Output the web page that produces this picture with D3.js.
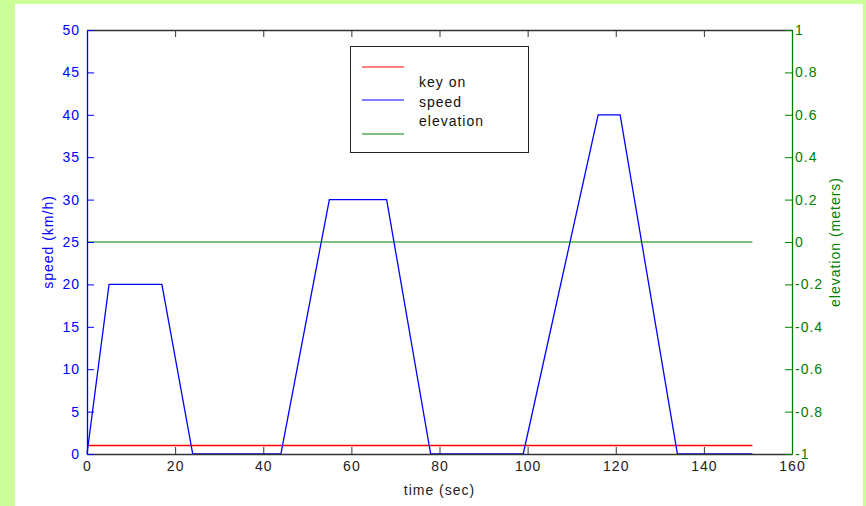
<!DOCTYPE html>
<html>
<head>
<meta charset="utf-8">
<script src="https://cdnjs.cloudflare.com/ajax/libs/d3/7.8.5/d3.min.js"></script>
<style>
    body { margin: 0; background: #ccff99; }
    svg text { font-family: "Liberation Sans", Arial, sans-serif; font-size: 14px; letter-spacing: 1px; }
</style>
</head>
<body>
<div id="chart"></div>
<script>
// speed profile breakpoints (sec, km/h)
var speedTime = [0, 5, 17, 24, 44, 55, 68, 78, 99, 116, 121, 134, 151];
var speedValue = [0, 20, 20, 0, 0, 30, 30, 0, 0, 40, 40, 0, 0];
// key on and elevation are flat over the whole run
var keyOnTime = [0, 151];
var keyOnValue = [1, 1];
var elevationTime = [0, 151];
var elevationValue = [0, 0];

var xTicks = [0, 20, 40, 60, 80, 100, 120, 140, 160];
var speedTicks = [0, 5, 10, 15, 20, 25, 30, 35, 40, 45, 50];
var elevTicks = [-1, -0.8, -0.6, -0.4, -0.2, 0, 0.2, 0.4, 0.6, 0.8, 1];

var legendLabels = ["key on", "speed", "elevation"];
var legendColors = ["#ff0000", "#0000ff", "#008000"];

var width = 866, height = 506;
var plotLeft = 87, plotRight = 792, plotTop = 30, plotBottom = 454;
var tickLen = 7;

var svg = d3.select("#chart").append("svg")
    .attr("width", width)
    .attr("height", height)
    .style("display", "block");

svg.append("rect")
    .attr("x", 15).attr("y", 4)
    .attr("width", 848).attr("height", height - 4)
    .attr("fill", "#fff");

var x = d3.scaleLinear().domain([0, 160]).range([plotLeft, plotRight]);
var ySpeed = d3.scaleLinear().domain([0, 50]).range([plotBottom, plotTop]);
var yElev = d3.scaleLinear().domain([-1, 1]).range([plotBottom, plotTop]);

function zip(t, v) {
    return t.map(function (d, i) { return [d, v[i]]; });
}

var line = function (ys) {
    return d3.line().x(function (d) { return x(d[0]); }).y(function (d) { return ys(d[1]); });
};

// data lines first, axes go on top like matlab
svg.append("path")
    .datum(zip(keyOnTime, keyOnValue))
    .attr("d", line(ySpeed))
    .attr("fill", "none").attr("stroke", "#ff0000").attr("stroke-width", 1.4);

svg.append("path")
    .datum(zip(speedTime, speedValue))
    .attr("d", line(ySpeed))
    .attr("fill", "none").attr("stroke", "#0000ff").attr("stroke-width", 1.3);

svg.append("path")
    .datum(zip(elevationTime, elevationValue))
    .attr("d", line(yElev))
    .attr("fill", "none").attr("stroke", "#008000").attr("stroke-width", 1.2);

// bottom + top axes (black, inward ticks)
var xBottom = svg.append("g")
    .attr("transform", "translate(0," + plotBottom + ")")
    .call(d3.axisBottom(x).tickValues(xTicks).tickSize(-tickLen).tickPadding(7).tickSizeOuter(0));
var xTop = svg.append("g")
    .attr("transform", "translate(0," + plotTop + ")")
    .call(d3.axisTop(x).tickValues(xTicks).tickSize(-tickLen).tickFormat("").tickSizeOuter(0));
[xBottom, xTop].forEach(function (g) {
    g.select(".domain").attr("stroke", "#333").attr("stroke-width", 1.3);
    g.selectAll(".tick line").attr("stroke", "#333");
    g.selectAll(".tick text").attr("fill", "#222").attr("font-size", 14).attr("font-family", null);
});

var yLeft = svg.append("g")
    .attr("transform", "translate(" + plotLeft + ",0)")
    .call(d3.axisLeft(ySpeed).tickValues(speedTicks).tickSize(-tickLen).tickPadding(7).tickSizeOuter(0));
yLeft.select(".domain").attr("stroke", "#0000ff").attr("stroke-width", 1.3);
yLeft.selectAll(".tick line").attr("stroke", "#0000ff");
yLeft.selectAll(".tick text").attr("fill", "#0000ff").attr("font-size", 14).attr("font-family", null);

var yRight = svg.append("g")
    .attr("transform", "translate(" + plotRight + ",0)")
    .call(d3.axisRight(yElev).tickValues(elevTicks).tickSize(-tickLen).tickPadding(3)
        .tickSizeOuter(0).tickFormat(function (d) { return String(+d.toFixed(1)); }));
yRight.select(".domain").attr("stroke", "#008000").attr("stroke-width", 1.3);
yRight.selectAll(".tick line").attr("stroke", "#008000");
yRight.selectAll(".tick text").attr("fill", "#008000").attr("font-size", 14).attr("font-family", null);

// axis labels
svg.append("text")
    .attr("x", (plotLeft + plotRight) / 2).attr("y", 495)
    .attr("text-anchor", "middle").attr("fill", "#222")
    .text("time (sec)");
svg.append("text")
    .attr("transform", "translate(53," + ((plotTop + plotBottom) / 2) + ") rotate(-90)")
    .attr("text-anchor", "middle").attr("fill", "#0000ff")
    .text("speed (km/h)");
svg.append("text")
    .attr("transform", "translate(840," + ((plotTop + plotBottom) / 2) + ") rotate(-90)")
    .attr("text-anchor", "middle").attr("fill", "#008000")
    .text("elevation (meters)");

// legend, old matlab style with lines and labels not lined up
var legend = svg.append("g");
legend.append("rect")
    .attr("x", 350.5).attr("y", 46.5)
    .attr("width", 178).attr("height", 106)
    .attr("fill", "#fff").attr("stroke", "#222");
var lineY = [67, 100, 134];
var textY = [87, 107, 126];
legend.selectAll("line.key")
    .data(legendColors)
    .enter()
    .append("line")
    .attr("x1", 362).attr("x2", 404)
    .attr("y1", function (d, i) { return lineY[i]; })
    .attr("y2", function (d, i) { return lineY[i]; })
    .attr("stroke", function (d) { return d; });
legend.selectAll("text")
    .data(legendLabels)
    .enter()
    .append("text")
    .attr("x", 419)
    .attr("y", function (d, i) { return textY[i]; })
    .attr("fill", "#111")
    .text(function (d) { return d; });
</script>
</body>
</html>
